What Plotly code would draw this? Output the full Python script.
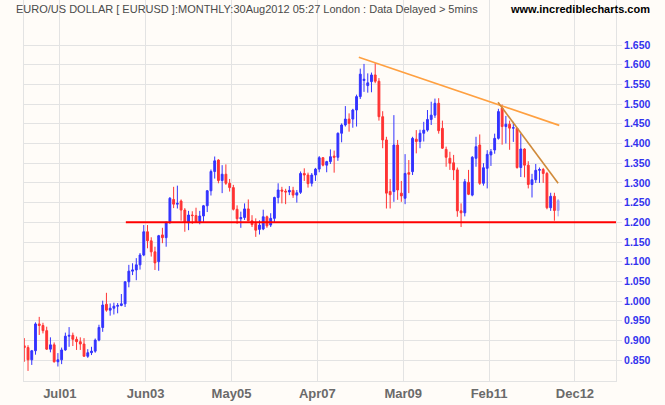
import plotly.graph_objects as go

# Monthly EUR/USD candles, Sep 2000 .. Aug 2012 (index 0 = Sep 2000)
opens = [
    0.8865, 0.8820, 0.8510, 0.8740,
    0.9420, 0.9380, 0.9250, 0.8780, 0.8890, 0.8460, 0.8510, 0.8760, 0.9110, 0.9130, 0.9030, 0.8970,
    0.8910, 0.8600, 0.8690, 0.8730, 0.9010, 0.9330, 0.9920, 0.9770, 0.9820, 0.9870, 0.9890, 0.9930,
    1.0490, 1.0760, 1.0790, 1.0920, 1.1170, 1.1760, 1.1530, 1.1250, 1.1000, 1.1680, 1.1610, 1.2020,
    1.2580, 1.2460, 1.2540, 1.2310, 1.1990, 1.2185, 1.2170, 1.2020, 1.2160, 1.2420, 1.2800, 1.3290,
    1.3580, 1.3060, 1.3220, 1.2990, 1.2880, 1.2330, 1.2090, 1.2120, 1.2340, 1.2040, 1.1970, 1.1820,
    1.1830, 1.2140, 1.1930, 1.2100, 1.2630, 1.2820, 1.2790, 1.2770, 1.2810, 1.2690, 1.2760, 1.3240,
    1.3200, 1.2990, 1.3200, 1.3350, 1.3640, 1.3450, 1.3540, 1.3680, 1.3650, 1.4260, 1.4470, 1.4620,
    1.4620, 1.4850, 1.5190, 1.5600, 1.5470, 1.5570, 1.5740, 1.5580, 1.4680, 1.4090, 1.2780, 1.2780,
    1.3960, 1.2740, 1.2610, 1.3260, 1.3285, 1.4110, 1.4050, 1.4260, 1.4340, 1.4610, 1.4720, 1.5020,
    1.4385, 1.3850, 1.3625, 1.3510, 1.3330, 1.2290, 1.2240, 1.3015, 1.2690, 1.3625, 1.3960, 1.2990,
    1.3370, 1.3710, 1.3835, 1.4130, 1.4900, 1.4430, 1.4490, 1.4390, 1.4385, 1.3390, 1.3860, 1.3450,
    1.2960, 1.3080, 1.3320, 1.3340, 1.3240, 1.2370, 1.2660, 1.2300,
]
highs = [
    0.9060, 0.8880, 0.8760, 0.9460,
    0.9600, 0.9450, 0.9350, 0.9080, 0.8950, 0.8680, 0.8820, 0.9200, 0.9340, 0.9200, 0.9100, 0.9080,
    0.9060, 0.8780, 0.8840, 0.9050, 0.9400, 1.0010, 1.0210, 0.9940, 0.9960, 0.9950, 1.0180, 1.0500,
    1.0920, 1.0960, 1.1090, 1.1220, 1.1930, 1.1930, 1.1620, 1.1380, 1.1680, 1.1860, 1.2020, 1.2640,
    1.2900, 1.2930, 1.2580, 1.2360, 1.2290, 1.2280, 1.2370, 1.2290, 1.2440, 1.2820, 1.3340, 1.3670,
    1.3600, 1.3450, 1.3470, 1.3100, 1.2950, 1.2430, 1.2270, 1.2480, 1.2580, 1.2180, 1.2100, 1.2050,
    1.2320, 1.2170, 1.2230, 1.2650, 1.2990, 1.2900, 1.2850, 1.2920, 1.2900, 1.2820, 1.3290, 1.3370,
    1.3260, 1.3250, 1.3380, 1.3680, 1.3650, 1.3560, 1.3850, 1.3820, 1.4280, 1.4510, 1.4950, 1.4765,
    1.4880, 1.5240, 1.5900, 1.6020, 1.5780, 1.5800, 1.6040, 1.5660, 1.4820, 1.4170, 1.3100, 1.4720,
    1.4090, 1.3050, 1.3730, 1.3580, 1.4170, 1.4340, 1.4350, 1.4550, 1.4850, 1.5060, 1.5140, 1.5150,
    1.4580, 1.3920, 1.3790, 1.3710, 1.3390, 1.2480, 1.3100, 1.3330, 1.3680, 1.4170, 1.4230, 1.3500,
    1.3830, 1.3860, 1.4250, 1.4880, 1.4990, 1.4700, 1.4580, 1.4550, 1.4390, 1.4250, 1.3880, 1.3550,
    1.3230, 1.3480, 1.3390, 1.3380, 1.3280, 1.2750, 1.2750, 1.2590,
]
lows = [
    0.8460, 0.8228, 0.8380, 0.8640,
    0.9140, 0.9180, 0.8760, 0.8700, 0.8440, 0.8340, 0.8400, 0.8740, 0.8840, 0.8860, 0.8760, 0.8760,
    0.8590, 0.8560, 0.8630, 0.8690, 0.8980, 0.9220, 0.9730, 0.9630, 0.9660, 0.9690, 0.9870, 0.9850,
    1.0350, 1.0660, 1.0530, 1.0800, 1.1140, 1.1340, 1.1130, 1.0790, 1.0770, 1.1470, 1.1380, 1.1960,
    1.2360, 1.2350, 1.2040, 1.1760, 1.1800, 1.1960, 1.2000, 1.1950, 1.2010, 1.2260, 1.2680, 1.3110,
    1.2990, 1.2740, 1.2950, 1.2780, 1.2300, 1.1960, 1.1860, 1.2060, 1.2030, 1.1880, 1.1630, 1.1690,
    1.1800, 1.1860, 1.1880, 1.2000, 1.2480, 1.2480, 1.2460, 1.2690, 1.2620, 1.2500, 1.2720, 1.3050,
    1.2880, 1.2910, 1.3050, 1.3270, 1.3420, 1.3270, 1.3480, 1.3260, 1.3560, 1.4030, 1.4430, 1.4300,
    1.4400, 1.4430, 1.5130, 1.5310, 1.5290, 1.5300, 1.5530, 1.4580, 1.3880, 1.2350, 1.2350, 1.2520,
    1.2570, 1.2520, 1.2460, 1.2740, 1.3200, 1.3750, 1.3880, 1.4050, 1.4300, 1.4470, 1.4650, 1.4250,
    1.3860, 1.3410, 1.3330, 1.3070, 1.2140, 1.1880, 1.2150, 1.2690, 1.2660, 1.3410, 1.2950, 1.2930,
    1.2860, 1.3430, 1.3740, 1.4100, 1.3970, 1.4000, 1.3840, 1.4040, 1.3360, 1.3150, 1.3140, 1.2860,
    1.2630, 1.3000, 1.3000, 1.3000, 1.2330, 1.2290, 1.2040, 1.2150,
]
closes = [
    0.8820, 0.8510, 0.8740, 0.9420,
    0.9380, 0.9250, 0.8780, 0.8890, 0.8460, 0.8510, 0.8760, 0.9110, 0.9130, 0.9030, 0.8970, 0.8910,
    0.8600, 0.8690, 0.8730, 0.9010, 0.9330, 0.9900, 0.9770, 0.9820, 0.9870, 0.9890, 0.9930, 1.0490,
    1.0760, 1.0790, 1.0920, 1.1170, 1.1760, 1.1530, 1.1250, 1.0970, 1.1660, 1.1610, 1.2000, 1.2610,
    1.2460, 1.2480, 1.2310, 1.2010, 1.2185, 1.2170, 1.2020, 1.2160, 1.2420, 1.2800, 1.3290, 1.3560,
    1.3060, 1.3220, 1.2990, 1.2880, 1.2330, 1.2090, 1.2120, 1.2340, 1.2040, 1.1940, 1.1800, 1.1930,
    1.2140, 1.1910, 1.2100, 1.2630, 1.2820, 1.2790, 1.2770, 1.2810, 1.2690, 1.2750, 1.3240, 1.3200,
    1.2980, 1.3200, 1.3350, 1.3640, 1.3450, 1.3540, 1.3665, 1.3650, 1.4260, 1.4470, 1.4620, 1.4510,
    1.4850, 1.5190, 1.5760, 1.5630, 1.5540, 1.5740, 1.5580, 1.4680, 1.4090, 1.2740, 1.2700, 1.3960,
    1.2820, 1.2670, 1.3240, 1.3220, 1.4130, 1.4050, 1.4260, 1.4340, 1.4610, 1.4720, 1.5020, 1.4325,
    1.3880, 1.3650, 1.3500, 1.3330, 1.2290, 1.2240, 1.3030, 1.2710, 1.3650, 1.3920, 1.2990, 1.3385,
    1.3725, 1.3790, 1.4130, 1.4810, 1.4430, 1.4490, 1.4390, 1.4400, 1.3390, 1.3860, 1.3450, 1.2960,
    1.3080, 1.3320, 1.3340, 1.3240, 1.2370, 1.2660, 1.2300, 1.2550,
]
months = list(range(len(closes)))

tick_months = [10, 33, 56, 79, 102, 125, 148]
tick_labels = ["Jul01", "Jun03", "May05", "Apr07", "Mar09", "Feb11", "Dec12"]
price_ticks = [0.85, 0.90, 0.95, 1.00, 1.05, 1.10, 1.15, 1.20, 1.25, 1.30,
               1.35, 1.40, 1.45, 1.50, 1.55, 1.60, 1.65]

# trend lines (month index, price)
upper_trend_x = [89.6, 143.3]
upper_trend_y = [1.619, 1.446]
steep_trend_x = [126.9, 143.0]
steep_trend_y = [1.5046, 1.299]
support_x = [27.2, 158.5]
support_y = [1.20, 1.20]

BLUE = "#3333ff"
RED = "#ff3333"
LIGHT = "#9f9ff5"
BG = "#fffcf8"
GRID = "#e3e3e3"

fig = go.Figure()

n = len(closes) - 1
fig.add_trace(go.Candlestick(
    x=months[:n], open=opens[:n], high=highs[:n], low=lows[:n], close=closes[:n],
    increasing=dict(line=dict(color=BLUE, width=1), fillcolor=BLUE),
    decreasing=dict(line=dict(color=RED, width=1), fillcolor=RED),
    whiskerwidth=0, showlegend=False, hoverinfo="skip",
))
fig.add_trace(go.Candlestick(
    x=months[n:], open=opens[n:], high=highs[n:], low=lows[n:], close=closes[n:],
    increasing=dict(line=dict(color=LIGHT, width=1), fillcolor=LIGHT),
    decreasing=dict(line=dict(color=LIGHT, width=1), fillcolor=LIGHT),
    whiskerwidth=0, showlegend=False, hoverinfo="skip",
))

fig.add_trace(go.Scatter(x=support_x, y=support_y, mode="lines",
                         line=dict(color="#ff0000", width=2), showlegend=False, hoverinfo="skip"))
fig.add_trace(go.Scatter(x=upper_trend_x, y=upper_trend_y, mode="lines",
                         line=dict(color="#ffa040", width=1.6), showlegend=False, hoverinfo="skip"))
fig.add_trace(go.Scatter(x=steep_trend_x, y=steep_trend_y, mode="lines",
                         line=dict(color="#d08a3a", width=1.6), showlegend=False, hoverinfo="skip"))

fig.update_layout(
    width=665, height=405,
    margin=dict(l=24, r=49, t=0, b=24),
    paper_bgcolor=BG, plot_bgcolor=BG,
    showlegend=False,
    xaxis=dict(
        type="linear", range=[-0.08, 158.5], rangeslider=dict(visible=False),
        tickvals=[m - 0.5 for m in tick_months], ticktext=tick_labels,
        showgrid=True, gridcolor=GRID, gridwidth=1,
        showline=True, linecolor=GRID, linewidth=1,
        ticks="",
        tickfont=dict(family="Liberation Sans, Arial", size=13, color="#6a6a6a", weight="bold"),
        zeroline=False,
    ),
    yaxis=dict(
        side="right", range=[0.7972, 1.7642],
        tickvals=price_ticks, ticktext=[f"{v:.3f}" for v in price_ticks],
        showgrid=True, gridcolor=GRID, gridwidth=1,
        showline=True, linecolor=GRID, linewidth=1, mirror=True,
        ticks="outside", ticklen=5, tickcolor=GRID,
        tickfont=dict(family="Liberation Sans, Arial", size=10.5, color="#3333ee", weight="bold"),
        zeroline=False,
    ),
    annotations=[
        dict(text="EURO/US DOLLAR [ EURUSD ]:MONTHLY:30Aug2012 05:27 London : Data Delayed > 5mins",
             xref="paper", yref="paper", x=-0.0, xshift=-10, y=1, yshift=-9,
             xanchor="left", yanchor="middle", showarrow=False,
             font=dict(family="Liberation Sans, Arial", size=11, color="#4a4a4a")),
        dict(text="www.incrediblecharts.com",
             xref="paper", yref="paper", x=1, xshift=36, y=1, yshift=-9,
             xanchor="right", yanchor="middle", showarrow=False,
             font=dict(family="Liberation Sans, Arial", size=11, color="#000000", weight="bold")),
    ],
)

fig.write_html("out.html")
